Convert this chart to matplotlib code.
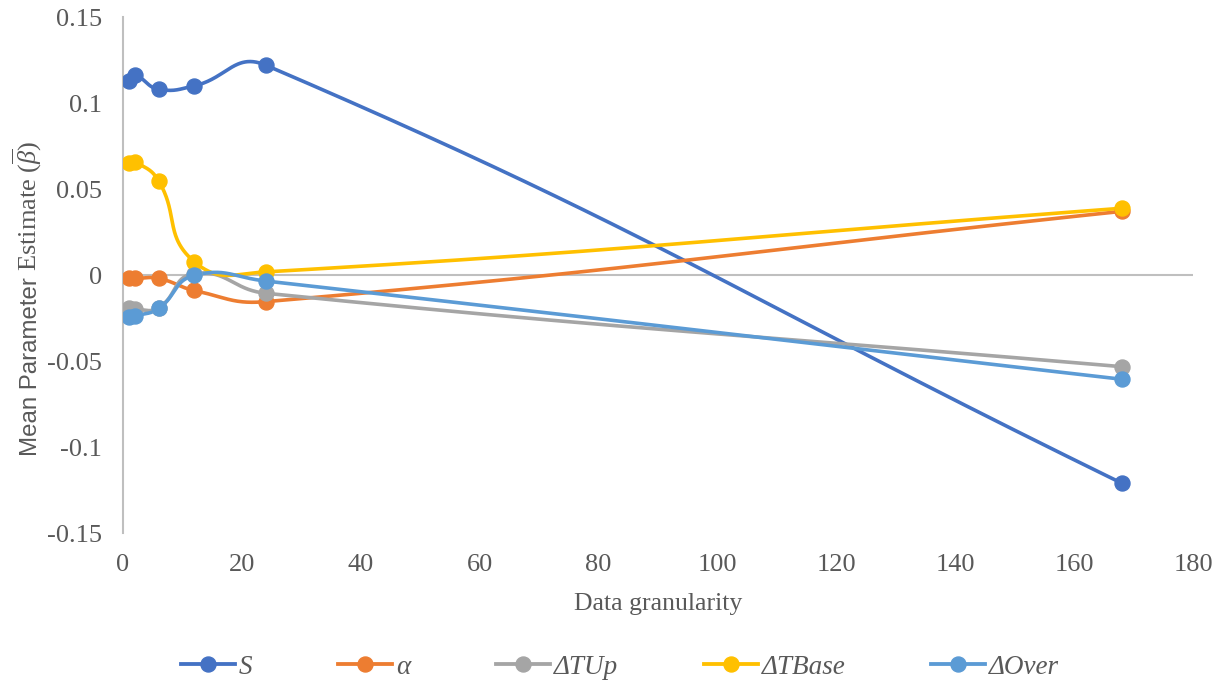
import numpy as np
import matplotlib
matplotlib.use("Agg")
import matplotlib.pyplot as plt
from matplotlib.lines import Line2D

plt.rcParams["mathtext.fontset"] = "custom"
plt.rcParams["mathtext.rm"] = "Liberation Serif"
plt.rcParams["mathtext.it"] = "Liberation Serif:italic"

x_vals = [1, 2, 6, 12, 24, 168]
series_names = ["S", "α", "ΔTUp", "ΔTBase", "ΔOver"]
s_vals = [0.113, 0.116, 0.108, 0.110, 0.122, -0.121]
alpha_vals = [-0.002, -0.002, -0.002, -0.009, -0.0155, 0.037]
tup_vals = [-0.0194, -0.020, -0.019, 0.0008, -0.0106, -0.0533]
tbase_vals = [0.065, 0.0659, 0.0547, 0.0077, 0.0018, 0.0388]
over_vals = [-0.0242, -0.0238, -0.0194, -0.0002, -0.0035, -0.0606]
colors = ["#4472C4", "#ED7D31", "#A5A5A5", "#FFC000", "#5B9BD5"]
x_ticks = [0, 20, 40, 60, 80, 100, 120, 140, 160, 180]
y_ticks = [-0.15, -0.1, -0.05, 0, 0.05, 0.1, 0.15]
y_tick_labels = ["-0.15", "-0.1", "-0.05", "0", "0.05", "0.1", "0.15"]

W, H = 1225, 683
fig = plt.figure(figsize=(W / 100, H / 100), dpi=100)
ax = fig.add_axes([123 / W, 1 - 533 / H, 1070 / W, 516 / H])
ax.set_xlim(0, 180)
ax.set_ylim(-0.15, 0.15)


def smooth(xs, ys, k=0.45, n=80):
    """Excel-like smoothed line, computed in display space."""
    P = ax.transData.transform(np.column_stack([xs, ys]))
    m = len(P)
    T = []
    for i in range(m):
        if i == 0:
            d = P[1] - P[0]
        elif i == m - 1:
            d = P[-1] - P[-2]
        else:
            d = P[i + 1] - P[i - 1]
        T.append(d / np.linalg.norm(d))
    out = []
    t = np.linspace(0, 1, n)[:, None]
    for i in range(m - 1):
        p0, p3 = P[i], P[i + 1]
        L = np.linalg.norm(p3 - p0)
        p1 = p0 + T[i] * L * k
        p2 = p3 - T[i + 1] * L * k
        b = (1 - t) ** 3 * p0 + 3 * (1 - t) ** 2 * t * p1 + 3 * (1 - t) * t ** 2 * p2 + t ** 3 * p3
        out.append(b)
    out = np.vstack(out)
    d = ax.transData.inverted().transform(out)
    return d[:, 0], d[:, 1]


all_vals = [s_vals, alpha_vals, tup_vals, tbase_vals, over_vals]
handles = []
for name, vals, c in zip(series_names, all_vals, colors):
    sx, sy = smooth(x_vals, vals)
    ax.plot(sx, sy, color=c, lw=2.6, zorder=3, solid_capstyle="round")
    ax.plot(x_vals, vals, "o", color=c, ms=10.8, zorder=4)
    handles.append(Line2D([0], [0], color=c, lw=2.75, marker="o", ms=10.8))

ax.set_xticks(x_ticks)
ax.set_yticks(y_ticks)
ax.set_xticklabels([str(v) for v in x_ticks])
ax.set_yticklabels(y_tick_labels)
for sp in ["top", "right", "bottom"]:
    ax.spines[sp].set_visible(False)
ax.spines["left"].set_color("#BFBFBF")
ax.spines["left"].set_linewidth(1.5)
ax.axhline(0, color="#BFBFBF", lw=1.5, zorder=1)
ax.tick_params(length=0, labelsize=19, colors="#595959", pad=15)
for lab in ax.get_xticklabels() + ax.get_yticklabels():
    lab.set_fontfamily("Liberation Serif")

fig.text(658 / W, 1 - 604 / H, "Data granularity", fontsize=18.5, family="Liberation Serif",
         color="#595959", ha="center", va="center")

# y label: sans part + serif part
t1 = fig.text(37 / W, 1 - 456 / H, "Mean Parameter", fontsize=17.3, family="Liberation Sans",
              color="#595959", rotation=90, rotation_mode="anchor", ha="left", va="baseline")
fig.canvas.draw()
bb = t1.get_window_extent(renderer=fig.canvas.get_renderer())
top_px = bb.y1 + 6
fig.text(37 / W, top_px / H, r"Estimate ($\overline{\beta}$)", fontsize=19, family="Liberation Serif",
         color="#595959", rotation=90, rotation_mode="anchor", ha="left", va="baseline")

leg_labels = ["S", "α", "ΔTUp", "ΔTBase", "ΔOver"]
leg = fig.legend(handles, leg_labels, loc="center", bbox_to_anchor=(620 / W, 1 - 667 / H), ncol=5,
                 frameon=False, handlelength=2.0, columnspacing=3.15, handletextpad=0.15,
                 prop={"family": "Liberation Serif", "style": "italic", "size": 19.5})
for t in leg.get_texts():
    t.set_color("#595959")

fig.savefig("out.png", dpi=100)
